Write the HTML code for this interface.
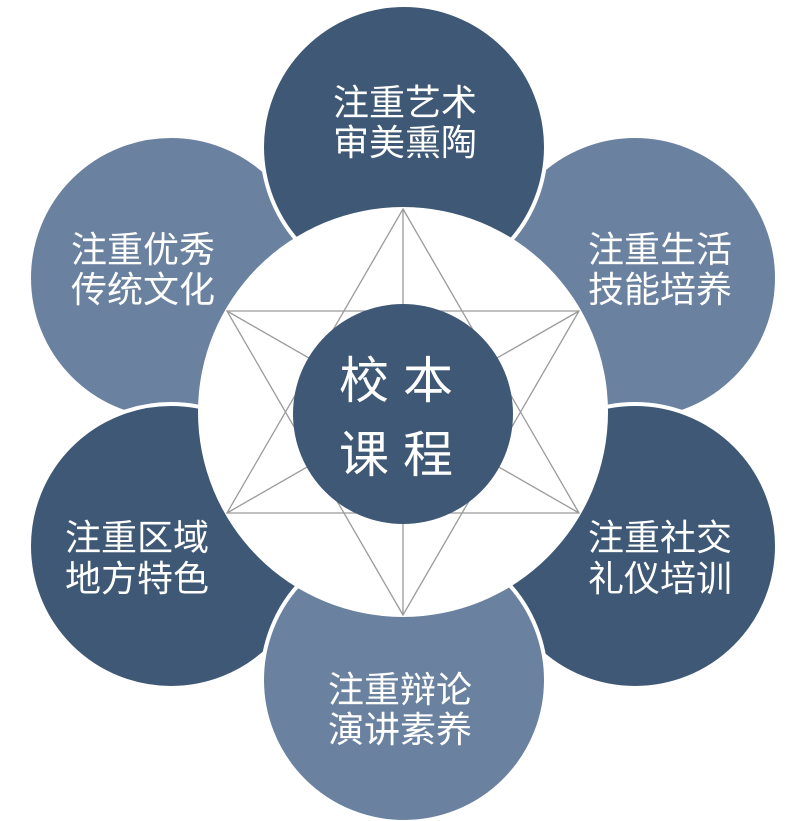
<!DOCTYPE html>
<html><head><meta charset="utf-8"><style>
html,body{margin:0;padding:0;background:#fff;}
svg{display:block;}
text{font-family:"Liberation Sans","Noto Sans CJK SC",sans-serif;fill:#fff;text-anchor:middle;}
</style></head><body>
<svg width="798" height="821" viewBox="0 0 798 821">
<g stroke="#fff" stroke-width="4">
<circle cx="171" cy="278" r="142" fill="#6b81a0"/>
<circle cx="635" cy="278" r="142" fill="#6b81a0"/>
<circle cx="404" cy="147" r="142" fill="#3e5875"/>
<circle cx="171" cy="546" r="142" fill="#3e5875"/>
<circle cx="635" cy="546" r="142" fill="#3e5875"/>
<circle cx="404" cy="680" r="142" fill="#6b81a0"/>
</g>
<circle cx="403" cy="412" r="205" fill="#fff"/>
<g stroke="#9a9a9a" stroke-width="1.3" fill="none">
<polygon points="403,209 579,513 227,513"/>
<polygon points="403,615 227,311 579,311"/>
<line x1="403" y1="209" x2="403" y2="615"/>
<line x1="227" y1="311" x2="579" y2="513"/>
<line x1="579" y1="311" x2="227" y2="513"/>
</g>
<circle cx="403" cy="414" r="110" fill="#3e5875"/>
<g font-size="50">
<text x="403" y="398" letter-spacing="14">校本</text>
<text x="403" y="472" letter-spacing="14">课程</text>
</g>
<g font-size="36">
<text x="405" y="115">注重艺术</text><text x="405" y="155">审美熏陶</text>
<text x="143" y="262">注重优秀</text><text x="143" y="302">传统文化</text>
<text x="660" y="262">注重生活</text><text x="660" y="302">技能培养</text>
<text x="137" y="550">注重区域</text><text x="137" y="591">地方特色</text>
<text x="660" y="550">注重社交</text><text x="660" y="591">礼仪培训</text>
<text x="400" y="702">注重辩论</text><text x="400" y="742">演讲素养</text>
</g>
</svg>
</body></html>
